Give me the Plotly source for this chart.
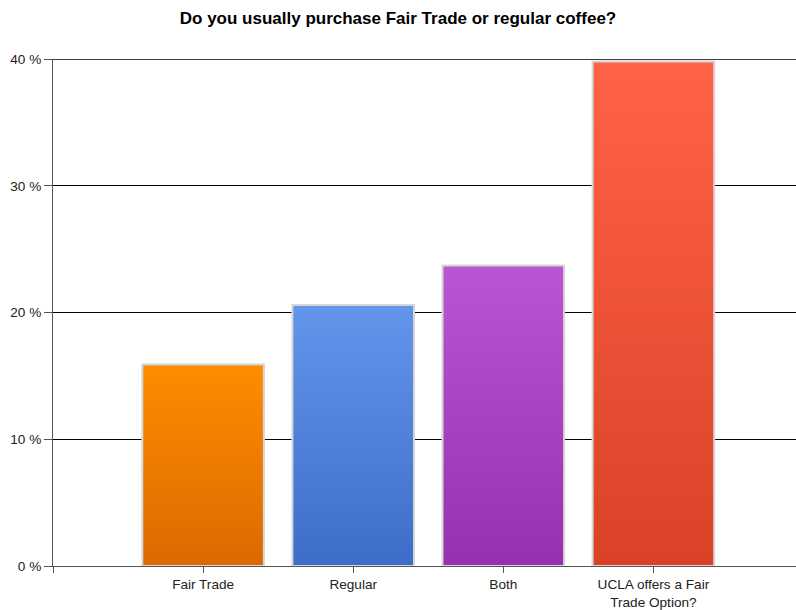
import plotly.graph_objects as go

# Survey answers and their share of respondents (%)
categories = ["Fair Trade", "Regular", "Both", "UCLA offers a Fair<br>Trade Option?"]
shares = [15.9, 20.6, 23.7, 39.8]

# Gradient colours per bar: (top, bottom)
top_colors = ["#FF8C00", "#6495ED", "#BA55D3", "#FF6347"]
bottom_colors = ["#DA6A00", "#3D6DC8", "#9630AE", "#DA4127"]

y_ticks = [0, 10, 20, 30, 40]
y_tick_text = [f"{v} %" for v in y_ticks]
y_max = 40

positions = list(range(1, len(categories) + 1))
bar_width = 0.81

fig = go.Figure()

for pos, val, c_top, c_bot in zip(positions, shares, top_colors, bottom_colors):
    x0, x1 = pos - bar_width / 2, pos + bar_width / 2
    fig.add_trace(go.Scatter(
        x=[x0, x1, x1, x0, x0],
        y=[0, 0, val, val, 0],
        mode="lines",
        fill="toself",
        fillgradient=dict(type="vertical", colorscale=[[0, c_bot], [1, c_top]]),
        line=dict(color="#D6D6D6", width=2),
        hoverinfo="skip",
        showlegend=False,
    ))

# Top gridline sits on the plot edge, draw it explicitly
fig.add_shape(
    type="line", xref="paper", yref="y",
    x0=0, x1=1, y0=y_max, y1=y_max,
    line=dict(color="#000000", width=1.6),
    layer="below",
)

fig.update_layout(
    width=796,
    height=610,
    paper_bgcolor="white",
    plot_bgcolor="white",
    margin=dict(l=53, r=0, t=59, b=40),
    title=dict(
        text="<b>Do you usually purchase Fair Trade or regular coffee?</b>",
        x=0.5,
        xanchor="center",
        y=0.971,
        yanchor="middle",
        font=dict(family="Liberation Sans, Arial", size=17, color="#000000"),
    ),
    font=dict(family="Liberation Sans, Arial", size=13.6, color="#222222"),
    showlegend=False,
)

fig.update_xaxes(
    range=[0, 4.95],
    tickmode="array",
    tickvals=[0] + positions,
    ticktext=[""] + categories,
    ticks="outside",
    ticklen=6,
    tickcolor="#555555",
    showline=True,
    linecolor="#555555",
    linewidth=1,
    showgrid=False,
    zeroline=False,
    tickfont=dict(size=13.6, color="#222222"),
)

fig.update_yaxes(
    range=[0, y_max],
    tickmode="array",
    tickvals=y_ticks,
    ticktext=y_tick_text,
    ticks="outside",
    ticklen=8,
    tickcolor="#555555",
    showline=True,
    linecolor="#555555",
    linewidth=1,
    showgrid=True,
    gridcolor="#000000",
    gridwidth=1,
    zeroline=False,
    tickfont=dict(size=13.6, color="#222222"),
)

fig.write_html("out.html")
